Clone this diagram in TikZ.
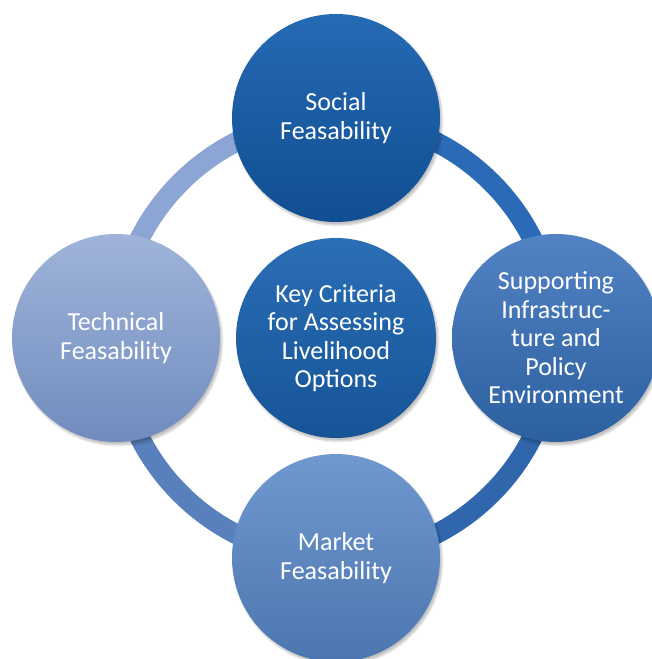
\documentclass[tikz,border=0pt]{standalone}
\usepackage{fontspec}
\setmainfont{Carlito}
\usetikzlibrary{backgrounds, shadows.blur}
\definecolor{socialtop}{RGB}{37,106,180}
\definecolor{socialbot}{RGB}{16,78,145}
\definecolor{keytop}{RGB}{42,110,182}
\definecolor{keybot}{RGB}{22,84,150}
\definecolor{supptop}{RGB}{82,130,196}
\definecolor{suppbot}{RGB}{44,96,160}
\definecolor{markettop}{RGB}{112,152,208}
\definecolor{marketbot}{RGB}{76,118,175}
\definecolor{techtop}{RGB}{160,180,218}
\definecolor{techbot}{RGB}{112,140,190}
\definecolor{ringtr}{RGB}{42,106,182}
\definecolor{ringbr}{RGB}{48,102,172}
\definecolor{ringbl}{RGB}{88,128,188}
\definecolor{ringtl}{RGB}{140,165,212}
\tikzset{
    crit/.style 2 args={circle, minimum size=208pt, inner sep=0pt, align=center, text=white, font=\fontsize{26}{28.5}\selectfont, top color=#1, bottom color=#2, blur shadow={shadow xshift=2pt, shadow yshift=-3pt, shadow opacity=25, shadow blur steps=8}},
    ringarc/.style={line width=20pt, draw=#1}
}
\begin{document}
\begin{tikzpicture}[x=1pt, y=1pt]
        \useasboundingbox (-336,-321) rectangle (315,338);
        \node[crit={socialtop}{socialbot}] (social) at (0, 220) {Social\\Feasability};
        \node[crit={supptop}{suppbot}] (supp) at (220, 0) {Supporting\\Infrastruc-\\ture and\\Policy\\Environment};
        \node[crit={markettop}{marketbot}] (market) at (0,-220) {Market\\Feasability};
        \node[crit={techtop}{techbot}] (tech) at (-220, 0) {Technical\\Feasability};
        \node[crit={keytop}{keybot}, minimum size=200pt] (key) at (0,0) {Key Criteria\\for Assessing\\Livelihood\\Options};
        \begin{scope}[on background layer]
        \draw[ringarc=ringtr] (social.center) arc[start angle=90, end angle=0, radius=220];
        \draw[ringarc=ringbr] (supp.center) arc[start angle=0, end angle=-90, radius=220];
        \draw[ringarc=ringbl] (market.center) arc[start angle=-90, end angle=-180, radius=220];
        \draw[ringarc=ringtl] (tech.center) arc[start angle=180, end angle=90, radius=220];
        \end{scope}
\end{tikzpicture}
\end{document}
